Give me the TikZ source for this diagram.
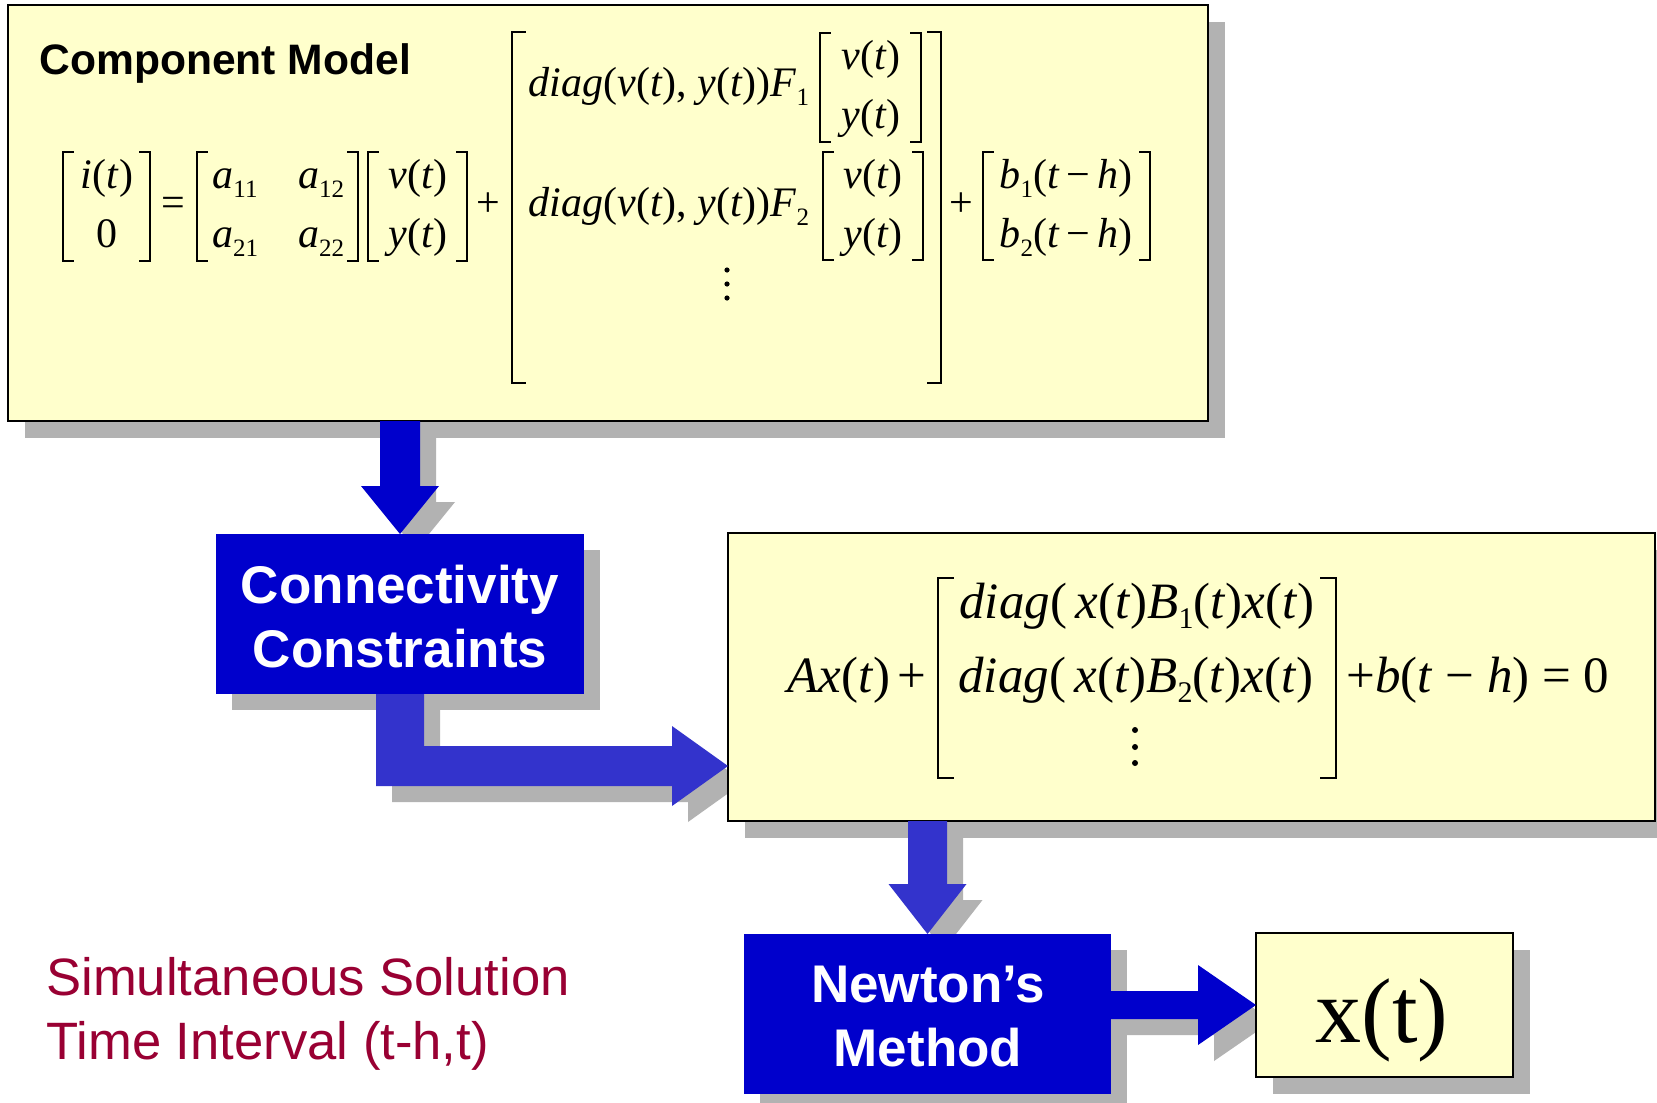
\documentclass[tikz,border=0pt]{standalone}
\usepackage{fontspec}
\setmainfont{Liberation Serif}
\newfontfamily\arialf{Liberation Sans}
\usetikzlibrary{calc}
\definecolor{ybg}{HTML}{FFFFCC}
\definecolor{bdark}{HTML}{0000CC}
\definecolor{blight}{HTML}{3333CC}
\definecolor{shd}{HTML}{B2B2B2}
\definecolor{redt}{HTML}{990033}
\pgfdeclarelayer{bg}
\pgfsetlayers{bg,main}
\newcommand{\va}[1]{\textit{#1}}
\newcommand{\sba}[1]{\raisebox{-4.5pt}{\fontsize{12.5}{12.5}\selectfont #1}}
\newcommand{\sbb}[1]{\raisebox{-5pt}{\fontsize{15}{15}\selectfont #1}}
\newcommand{\brpair}[5]{%
  \draw[brk] ({#1+#5},#3) -| (#1,#4) -- ({#1+#5},#4);
  \draw[brk] ({#2-#5},#3) -| (#2,#4) -- ({#2-#5},#4);}
\begin{document}
\begin{tikzpicture}[x=0.5pt,y=-0.5pt,
  ybox/.style={draw=black,line width=1pt,fill=ybg,inner sep=0pt,outer sep=0pt,anchor=north west},
  bbox/.style={fill=bdark,inner sep=0pt,outer sep=0pt,anchor=north west},
  eqA/.style={font=\fontsize{21}{24}\selectfont,inner sep=0pt,anchor=base},
  eqB/.style={font=\fontsize{25.5}{30}\selectfont,inner sep=0pt,anchor=base},
  brk/.style={line width=1.1pt,line cap=rect,line join=miter},
  wtxt/.style={font=\arialf\bfseries\fontsize{26.5}{30}\selectfont,text=white,inner sep=0pt,anchor=base},
  rtxt/.style={font=\arialf\fontsize{26.3}{30}\selectfont,text=redt,inner sep=0pt,anchor=base west},
  dotc/.style={fill=black}
]
\useasboundingbox (0,0) rectangle (1657,1102);

% boxes
\node[ybox,minimum width=600pt,minimum height=208pt] (top) at (8,5) {};
\node[ybox,minimum width=463.5pt,minimum height=144pt] (eq) at (728,533) {};
\node[ybox,minimum width=128.5pt,minimum height=72pt] (xt) at (1256,933) {};
\node[bbox,minimum width=184pt,minimum height=80pt] (conn) at (216,534) {};
\node[bbox,minimum width=183.5pt,minimum height=80pt] (newton) at (744,934) {};

% background and shadows
\begin{pgfonlayer}{bg}
\fill[white] (0,0) rectangle (1657,1102);
\begin{scope}
\clip (0,0) rectangle (1657,1102);
\fill[shd] ([shift={(17,17)}]top.north west) rectangle ([shift={(17,17)}]top.south east);
\fill[shd] ([shift={(17,17)}]eq.north west) rectangle ([shift={(17,17)}]eq.south east);
\fill[shd] ([shift={(17,17)}]xt.north west) rectangle ([shift={(17,17)}]xt.south east);
\fill[shd] ([shift={(16,16)}]conn.north west) rectangle ([shift={(16,16)}]conn.south east);
\fill[shd] ([shift={(16,16)}]newton.north west) rectangle ([shift={(16,16)}]newton.south east);
\fill[shd] ([shift={(16,16)}]conn.north) -- ++(-39,-48) -- ++(19,0) -- ++(0,-65) -- ++(40,0) -- ++(0,65) -- ++(19,0) -- cycle;
\fill[shd] ([shift={(16,16)}]conn.south) -- ++(-24,0) -- ++(0,92) -- ++(296,0) -- ++(0,20) -- ++(56,-40) -- ++(-56,-40) -- ++(0,20) -- ++(-248,0) -- ++(0,-52) -- cycle;
\fill[shd] ([shift={(16,16)}]newton.north) -- ++(-39,-50) -- ++(19.5,0) -- ++(0,-63) -- ++(39,0) -- ++(0,63) -- ++(19.5,0) -- cycle;
\fill[shd] ([shift={(16,16)}]xt.west) -- ++(-58,-40) -- ++(0,26) -- ++(-87,0) -- ++(0,28) -- ++(87,0) -- ++(0,26) -- cycle;
\end{scope}
\end{pgfonlayer}

% arrows
\fill[bdark] (conn.north) -- ++(-39,-48) -- ++(19,0) -- ++(0,-65) -- ++(40,0) -- ++(0,65) -- ++(19,0) -- cycle;
\fill[blight] (conn.south) -- ++(-24,0) -- ++(0,92) -- ++(296,0) -- ++(0,20) -- ++(56,-40) -- ++(-56,-40) -- ++(0,20) -- ++(-248,0) -- ++(0,-52) -- cycle;
\fill[blight] (newton.north) -- ++(-39,-50) -- ++(19.5,0) -- ++(0,-63) -- ++(39,0) -- ++(0,63) -- ++(19.5,0) -- cycle;
\fill[bdark] (xt.west) -- ++(-58,-40) -- ++(0,26) -- ++(-87,0) -- ++(0,28) -- ++(87,0) -- ++(0,26) -- cycle;

% labels
\node[font=\arialf\bfseries\fontsize{21.3}{24}\selectfont,anchor=base west,inner sep=0pt] (cmt) at (39,75) {Component Model};
\node[wtxt] (c1) at (400,603) {Connectivity};
\node[wtxt] (c2) at (400,667) {Constraints};
\node[wtxt] (n1) at (928,1002) {Newton’s};
\node[wtxt] (n2) at (928,1066) {Method};
\node[rtxt] (r1) at (46,995) {Simultaneous Solution};
\node[rtxt] (r2) at (46,1059) {Time Interval (t-h,t)};
\node[font=\fontsize{46}{50}\selectfont,anchor=base,inner sep=0pt] (xtl) at (1382,1042) {x(t)};

% top equation
\brpair{63}{150}{152}{261}{10}
\node[eqA] (i1) at (107,188) {\va{i}(\va{t})};
\node[eqA] (i2) at (107,247) {0};
\node[eqA] (eqs) at (173,216) {=};
\brpair{197}{358}{152}{261}{10}
\node[eqA] (a11) at (235,188) {\va{a}\sba{11}};
\node[eqA] (a12) at (321,188) {\va{a}\sba{12}};
\node[eqA] (a21) at (235,247) {\va{a}\sba{21}};
\node[eqA] (a22) at (321,247) {\va{a}\sba{22}};
\brpair{368}{467}{152}{261}{10}
\node[eqA] (v1) at (418,188) {\va{v}(\va{t})};
\node[eqA] (v2) at (418,247) {\va{y}(\va{t})};
\node[eqA] (p1) at (488,216) {+};
\brpair{512}{941}{32}{383}{13}
\node[eqA] (d1) at (669,97) {\va{diag}(\va{v}(\va{t}), \va{y}(\va{t}))\va{F}\sba{1}};
\brpair{820}{921}{33}{142}{10}
\node[eqA] (w1) at (871,69) {\va{v}(\va{t})};
\node[eqA] (w2) at (871,128) {\va{y}(\va{t})};
\node[eqA] (d2) at (669,216) {\va{diag}(\va{v}(\va{t}), \va{y}(\va{t}))\va{F}\sba{2}};
\brpair{823}{923}{152}{260}{10}
\node[eqA] (u1) at (873,188) {\va{v}(\va{t})};
\node[eqA] (u2) at (873,247) {\va{y}(\va{t})};
\fill[dotc] (727,270) circle[radius=1.3pt];
\fill[dotc] (727,284) circle[radius=1.3pt];
\fill[dotc] (727,298) circle[radius=1.3pt];
\node[eqA] (p2) at (961,216) {+};
\brpair{983}{1150}{152}{260}{10}
\node[eqA] (b1) at (1066,188) {\va{b}\sba{1}(\va{t}\,−\,\va{h})};
\node[eqA] (b2) at (1066,247) {\va{b}\sba{2}(\va{t}\,−\,\va{h})};

% bottom equation
\node[eqB,anchor=base west] (ax) at (787,692) {\va{Ax}(\va{t})};
\node[eqB] (p3) at (912,692) {+};
\brpair{938}{1336}{578}{778}{15}
\node[eqB] (e1) at (1137,618) {\va{diag}(\,\va{x}(\va{t})\va{B}\sbb{1}(\va{t})\va{x}(\va{t})};
\node[eqB] (e2) at (1136,692) {\va{diag}(\,\va{x}(\va{t})\va{B}\sbb{2}(\va{t})\va{x}(\va{t})};
\fill[dotc] (1135,730) circle[radius=1.5pt];
\fill[dotc] (1135,747) circle[radius=1.5pt];
\fill[dotc] (1135,763) circle[radius=1.5pt];
\node[eqB,anchor=base west] (rest) at (1346,692) {+\va{b}(\va{t} − \va{h}) = 0};
\end{tikzpicture}
\end{document}
